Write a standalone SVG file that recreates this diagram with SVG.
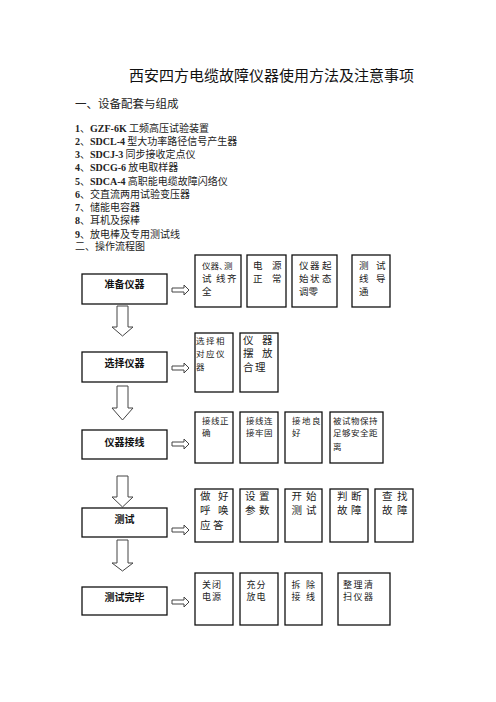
<svg xmlns="http://www.w3.org/2000/svg" width="496" height="702" viewBox="0 0 496 702">
<style>
text{font-family:"Noto Sans CJK SC","Noto Sans",sans-serif;fill:#222}
.t{font-size:15px;fill:#111}
.h1{font-size:11.5px}
.li{font-size:10px}
.lb{font-family:"Liberation Serif",serif;font-weight:bold}
.lbl{font-size:10px;font-weight:bold;text-anchor:middle;fill:#111}
.box{fill:#fff;stroke:#111;stroke-width:1.3}
.arr{fill:#fff;stroke:#444;stroke-width:1}
.s95{font-size:9.5px;fill:#444}
.s9a{font-size:8.5px}
.s85{font-size:8.5px;fill:#555}
.s105{font-size:10.5px;fill:#444}
.s9{font-size:9px;fill:#555}
</style>
<rect width="496" height="702" fill="#fff"/>
<g id="header">
<text class="t" x="129" y="80.5">西安四方电缆故障仪器使用方法及注意事项</text>
<text class="h1" x="75" y="107.5">一、设备配套与组成</text>
<g class="li">
<text x="75" y="131.5"><tspan class="lb">1</tspan>、<tspan class="lb">GZF-6K</tspan> 工频高压试验装置</text>
<text x="75" y="144.8"><tspan class="lb">2</tspan>、<tspan class="lb">SDCL-4</tspan> 型大功率路径信号产生器</text>
<text x="75" y="158"><tspan class="lb">3</tspan>、<tspan class="lb">SDCJ-3</tspan> 同步接收定点仪</text>
<text x="75" y="171.3"><tspan class="lb">4</tspan>、<tspan class="lb">SDCG-6</tspan> 放电取样器</text>
<text x="75" y="184.5"><tspan class="lb">5</tspan>、<tspan class="lb">SDCA-4</tspan> 高职能电缆故障闪络仪</text>
<text x="75" y="197.8"><tspan class="lb">6</tspan>、交直流两用试验变压器</text>
<text x="75" y="211"><tspan class="lb">7</tspan>、储能电容器</text>
<text x="75" y="224.3"><tspan class="lb">8</tspan>、耳机及探棒</text>
<text x="75" y="237.5"><tspan class="lb">9</tspan>、放电棒及专用测试线</text>
<text x="75" y="250">二、操作流程图</text>
</g>
</g>
<g id="connectors">
<polygon class="arr" points="117,306 128,306 128,327 133,327 122.5,336 112,327 117,327"/>
<polygon class="arr" points="117,386 128,386 128,408 133,408 122.5,420 112,408 117,408"/>
<polygon class="arr" points="117,476 128,476 128,497 133,497 122.5,507 112,497 117,497"/>
<polygon class="arr" points="117,540 128,540 128,563 133,563 122.5,571 112,563 117,563"/>
<polygon class="arr" points="172,288 184,288 184,285 189,290 184,295 184,292 172,292"/>
<polygon class="arr" points="172,366 184,366 184,363 189,368 184,373 184,370 172,370"/>
<polygon class="arr" points="172,442 184,442 184,439 189,444 184,449 184,446 172,446"/>
<polygon class="arr" points="172,528 184,528 184,525 189,530 184,535 184,532 172,532"/>
<polygon class="arr" points="172,600 184,600 184,597 189,602 184,607 184,604 172,604"/>
</g>
<g id="n-prepare"><rect class="box" x="82" y="274" width="85" height="30"/><text class="lbl" x="124.5" y="288">准备仪器</text></g>
<g id="n-select"><rect class="box" x="82" y="352" width="85" height="30"/><text class="lbl" x="124.5" y="367">选择仪器</text></g>
<g id="n-wiring"><rect class="box" x="82" y="430" width="85" height="29"/><text class="lbl" x="124.5" y="446">仪器接线</text></g>
<g id="n-test"><rect class="box" x="82" y="508" width="85" height="29"/><text class="lbl" x="124.5" y="523">测试</text></g>
<g id="n-finish"><rect class="box" x="82" y="587" width="85" height="28"/><text class="lbl" x="124.5" y="601">测试完毕</text></g>

<g id="r1a"><rect class="box" x="195" y="255" width="46" height="52"/><g class="s95"><text class="s9a" x="202 210.5 219 224" y="268.5">仪器、测</text><text x="202 216 227" y="281.5">试线齐</text><text x="202" y="294.5">全</text></g></g>
<g id="r1b"><rect class="box" x="247" y="255" width="39" height="52"/><g class="s95"><text x="253 272" y="268.5">电源</text><text x="253 272" y="281.5">正常</text></g></g>
<g id="r1c"><rect class="box" x="292" y="255" width="45" height="52"/><g class="s95"><text x="299 310 322" y="268.5">仪器起</text><text x="299 310 322" y="281.5">始状态</text><text x="299 308.5" y="294.5">调零</text></g></g>
<g id="r1d"><rect class="box" x="352" y="255" width="38" height="52"/><g class="s95"><text x="359 376" y="268.5">测试</text><text x="359 376" y="281.5">线导</text><text x="359" y="294.5">通</text></g></g>

<g id="r2a"><rect class="box" x="195" y="333" width="38" height="59"/><g class="s85"><text x="196 206 216" y="344">选择相</text><text x="196 206 216" y="357">对应仪</text><text x="196" y="370">器</text></g></g>
<g id="r2b"><rect class="box" x="240" y="333" width="38" height="59"/><g class="s105"><text x="243 262" y="344">仪器</text><text x="243 262" y="357">摆放</text><text x="243 255" y="371">合理</text></g></g>

<g id="r3a"><rect class="box" x="195" y="412" width="38" height="51"/><g class="s85"><text x="202 211 220" y="424">接线正</text><text x="202" y="436">确</text></g></g>
<g id="r3b"><rect class="box" x="240" y="412" width="38" height="51"/><g class="s85"><text x="246 255 264" y="424">接线连</text><text x="246 255 264" y="436">接牢固</text></g></g>
<g id="r3c"><rect class="box" x="285" y="412" width="37" height="51"/><g class="s85"><text x="292 302 312" y="424">接地良</text><text x="292" y="436">好</text></g></g>
<g id="r3d"><rect class="box" x="330" y="412" width="53" height="51"/><g class="s85"><text x="333 342 351 360 369" y="424">被试物保持</text><text x="333 342 351 360 369" y="436">足够安全距</text><text x="333" y="450">离</text></g></g>

<g id="r4a"><rect class="box" x="195" y="489" width="38" height="53"/><g class="s105"><text x="200 218" y="500">做好</text><text x="200 218" y="514">呼唤</text><text x="200 213" y="529">应答</text></g></g>
<g id="r4b"><rect class="box" x="240" y="489" width="38" height="53"/><g class="s105"><text x="245 259" y="500">设置</text><text x="245 259" y="514">参数</text></g></g>
<g id="r4c"><rect class="box" x="285" y="489" width="37" height="53"/><g class="s105"><text x="291.5 306" y="500">开始</text><text x="291.5 306" y="514">测试</text></g></g>
<g id="r4d"><rect class="box" x="330" y="489" width="38" height="53"/><g class="s105"><text x="337 351" y="500">判断</text><text x="337 351" y="514">故障</text></g></g>
<g id="r4e"><rect class="box" x="375" y="489" width="38" height="53"/><g class="s105"><text x="382 397" y="500">查找</text><text x="382 397" y="514">故障</text></g></g>

<g id="r5a"><rect class="box" x="195" y="573" width="38" height="52"/><g class="s9"><text x="202 212" y="587.5">关闭</text><text x="202 212" y="599.5">电源</text></g></g>
<g id="r5b"><rect class="box" x="240" y="573" width="38" height="52"/><g class="s9"><text x="246.5 256.5" y="587.5">充分</text><text x="246.5 256.5" y="599.5">放电</text></g></g>
<g id="r5c"><rect class="box" x="285" y="573" width="37" height="52"/><g class="s9"><text x="291.5 306" y="587.5">拆除</text><text x="291.5 306" y="599.5">接线</text></g></g>
<g id="r5d"><rect class="box" x="338" y="573" width="52" height="52"/><g class="s9"><text x="343 353.5 364" y="587.5">整理清</text><text x="343 353.5 364" y="599.5">扫仪器</text></g></g>
</svg>
